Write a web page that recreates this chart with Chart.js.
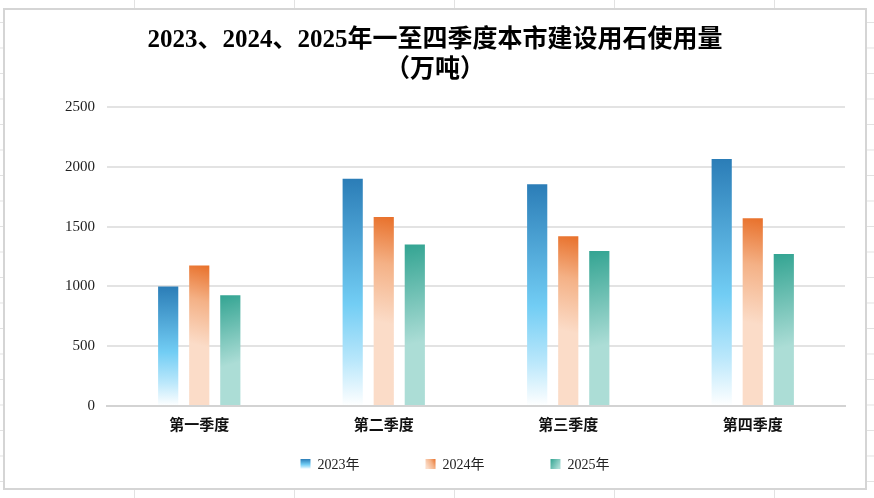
<!DOCTYPE html>
<html lang="zh-CN">
<head>
<meta charset="utf-8">
<title>建设用石使用量</title>
<script src="https://cdn.jsdelivr.net/npm/chart.js@4.4.1/dist/chart.umd.min.js"></script>
<style>
  html, body { margin: 0; padding: 0; }
  body {
    width: 874px;
    height: 498px;
    overflow: hidden;
    background-color: #fff;
    background-image:
      linear-gradient(to right, #e2e2e2 1px, transparent 1px),
      linear-gradient(to bottom, #e2e2e2 1px, transparent 1px);
    background-size: 160px 25.5px;
    background-position: 134px 22px;
  }
  #card {
    position: absolute;
    left: 3px;
    top: 8px;
    width: 860px;
    height: 478px;
    border: 2px solid #d5d5d5;
    background: #fff;
  }
  canvas { display: block; }
</style>
</head>
<body>
<div id="card"><canvas id="stoneChart"></canvas></div>
<script>
const quarters = ["第一季度", "第二季度", "第三季度", "第四季度"];
const years = ["2023年", "2024年", "2025年"];
const use2023 = [1000, 1900, 1855, 2065];
const use2024 = [1175, 1580, 1420, 1570];
const use2025 = [925, 1350, 1295, 1270];
const yTicks = [0, 500, 1000, 1500, 2000, 2500];

const serif = "'Liberation Serif', 'Noto Sans CJK SC', serif";
const CAT_PCT = 0.505;
const BAR_PCT = 0.65;

// gradient for one series, over a box (left, top, right, base)
function seriesGradient(c, series, left, top, right, base) {
  const h = base - top;
  let g;
  if (series === 0) {
    g = c.createLinearGradient(0, top, 0, base);
    g.addColorStop(0, "#2b7db7");
    g.addColorStop(0.55, "#72cdf4");
    g.addColorStop(0.8, "#b9e7fb");
    g.addColorStop(1, "#ffffff");
  } else if (series === 1) {
    g = c.createLinearGradient(right, top, left, top + h * 0.55);
    g.addColorStop(0, "#e8702a");
    g.addColorStop(0.45, "#f4b186");
    g.addColorStop(1, "#fbdcc8");
  } else {
    g = c.createLinearGradient(left, top, right, top + h * 0.6);
    g.addColorStop(0, "#33a492");
    g.addColorStop(1, "#acddd6");
  }
  return g;
}

const flatColors = ["#4aa6dc", "#f2a06a", "#6cc1b5"];

function barFill(ctx) {
  const chart = ctx.chart;
  const xs = chart.scales.x, ys = chart.scales.y;
  if (ctx.type !== "data" || !xs || !ys || !chart.chartArea) return flatColors[ctx.datasetIndex];
  const slot = xs.width / quarters.length * CAT_PCT / 3;
  const cx = xs.getPixelForValue(ctx.dataIndex) + (ctx.datasetIndex - 1) * slot;
  const w = slot * BAR_PCT;
  return seriesGradient(chart.ctx, ctx.datasetIndex, cx - w / 2, ys.getPixelForValue(ctx.raw), cx + w / 2, ys.getPixelForValue(0));
}

// legend drawn by hand so the boxes get the same gradients and wide spacing
const gradientLegend = {
  id: "gradientLegend",
  afterDraw(chart) {
    const c = chart.ctx;
    const box = 10, gap = 7, spacing = 66;
    const cy = chart.height - 24;
    const centerX = (chart.chartArea.left + chart.chartArea.right) / 2 - 21;
    c.save();
    c.font = "14px " + serif;
    const items = chart.data.datasets.map(ds => ({ text: ds.label, w: box + gap + c.measureText(ds.label).width }));
    const total = items.reduce((s, it) => s + it.w, 0) + spacing * (items.length - 1);
    let x = centerX - total / 2;
    items.forEach((it, i) => {
      c.fillStyle = seriesGradient(c, i, x, cy - box / 2, x + box, cy + box / 2);
      c.fillRect(x, cy - box / 2, box, box);
      c.fillStyle = "#222";
      c.textBaseline = "middle";
      c.textAlign = "left";
      c.fillText(it.text, x + box + gap, cy + 1);
      x += it.w + spacing;
    });
    c.restore();
  }
};

const ctx = document.getElementById("stoneChart").getContext("2d");
new Chart(ctx, {
  type: "bar",
  data: {
    labels: quarters,
    datasets: [
      { label: years[0], data: use2023, backgroundColor: barFill },
      { label: years[1], data: use2024, backgroundColor: barFill },
      { label: years[2], data: use2025, backgroundColor: barFill }
    ]
  },
  options: {
    responsive: true,
    maintainAspectRatio: false,
    animation: false,
    categoryPercentage: CAT_PCT,
    barPercentage: BAR_PCT,
    layout: { padding: { left: 20, right: 20, top: 0, bottom: 42 } },
    plugins: {
      legend: { display: false },
      title: {
        display: true,
        text: ["2023、2024、2025年一至四季度本市建设用石使用量", "（万吨）"],
        color: "#000",
        font: { family: serif, size: 25, weight: "bold", lineHeight: 1.2 },
        padding: { top: 16, bottom: 21 }
      }
    },
    scales: {
      x: {
        grid: { display: false, drawTicks: false },
        border: { color: "#d3d3d3", width: 2 },
        ticks: {
          color: "#111",
          padding: 11,
          font: { family: serif, size: 15, weight: "bold" }
        }
      },
      y: {
        min: 0,
        max: yTicks[yTicks.length - 1],
        afterFit(scale) { scale.width = 82; },
        afterBuildTicks(scale) { scale.ticks = yTicks.map(v => ({ value: v })); },
        grid: { color: "#e3e3e3", lineWidth: 2, drawTicks: false },
        border: { display: false },
        ticks: {
          color: "#222",
          padding: 12,
          font: { family: serif, size: 15 },
          callback: v => String(v)
        }
      }
    }
  },
  plugins: [gradientLegend]
});
</script>
</body>
</html>
